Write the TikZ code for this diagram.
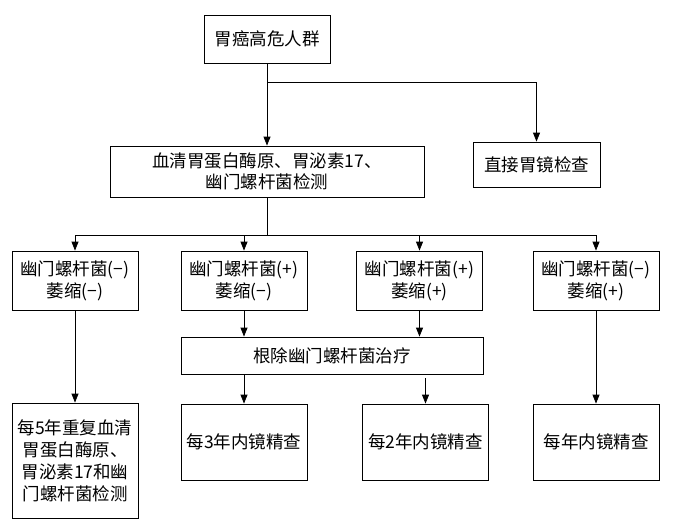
\documentclass[tikz,border=0pt]{standalone}
\usepackage{fontspec}
\setmainfont{Noto Sans CJK SC}
\usepackage{tikz}
\usetikzlibrary{positioning, arrows.meta}

\begin{document}
\begin{tikzpicture}[x=1pt, y=1pt, on grid, line width=0.8pt,
        font=\fontsize{17.5}{22}\selectfont]
        \tikzset{box/.style={draw, align=center, inner sep=0pt, minimum width=126pt}}
        \tikzstyle{arr}=[-{Triangle[width=7pt,length=9pt]}]

        \useasboundingbox (0,0) rectangle (679,-528);

        \node[box, minimum height=48pt] (top) at (267,-39) {胃癌高危人群};
        \node[box, minimum width=314pt, minimum height=51pt, font=\fontsize{17.5}{20.5}\selectfont] (serum) [below=132.5pt of top]
            {血清胃蛋白酶原、胃泌素17、\\幽门螺杆菌检测};
        \node[box, minimum width=127pt, minimum height=45pt] (direct) [below right=125.5pt and 269.5pt of top] {直接胃镜检查};

        % second row
        \node[box, minimum height=59pt] (hp1) [below left=109pt and 192pt of serum] {幽门螺杆菌(−)\\萎缩(−)};
        \node[box, minimum height=59pt] (hp2) [right=169pt of hp1] {幽门螺杆菌(+)\\萎缩(−)};
        \node[box, minimum height=59pt] (hp3) [right=175.5pt of hp2] {幽门螺杆菌(+)\\萎缩(+)};
        \node[box, minimum height=59pt] (hp4) [right=176.5pt of hp3] {幽门螺杆菌(−)\\萎缩(+)};

        \node[box, minimum width=302pt, minimum height=37pt] (treat) [below right=75pt and 88pt of hp2] {根除幽门螺杆菌治疗};

        % third row
        \node[box, minimum height=115pt] (f1) [below=180pt of hp1]
            {每5年重复血清\\胃蛋白酶原、\\胃泌素17和幽\\门螺杆菌检测};
        \node[box, minimum height=76pt] (f2) [below=161.5pt of hp2] {每3年内镜精查};
        \node[box, minimum height=76pt] (f3) [below right=161.5pt and 6pt of hp3] {每2年内镜精查};
        \node[box, minimum height=76pt] (f4) [below=161.5pt of hp4] {每年内镜精查};

        \coordinate[below=19pt of top.south] (split1);
        \coordinate[below=38pt of serum.south] (split2);

        \draw[arr] (top.south) -- (serum.north);
        \draw[arr] (split1) -| (direct.north);
        \draw (serum.south) -- (split2);
        \draw[arr] (split2) -| (hp1.north);
        \draw[arr] (split2) -| (hp2.north);
        \draw[arr] (split2) -| (hp3.north);
        \draw[arr] (split2) -| (hp4.north);
        \draw[arr] (hp2.south) -- (hp2.south |- treat.north);
        \draw[arr] (hp3.south) -- (hp3.south |- treat.north);
        \draw[arr] (hp2.south |- treat.south) -- (hp2.south |- f2.north);
        \draw[arr, shorten <=4pt] (f3.north |- treat.south) -- (f3.north);
        \draw[arr] (hp1.south) -- (f1.north);
        \draw[arr] (hp4.south) -- (f4.north);
    \end{tikzpicture}
\end{document}
